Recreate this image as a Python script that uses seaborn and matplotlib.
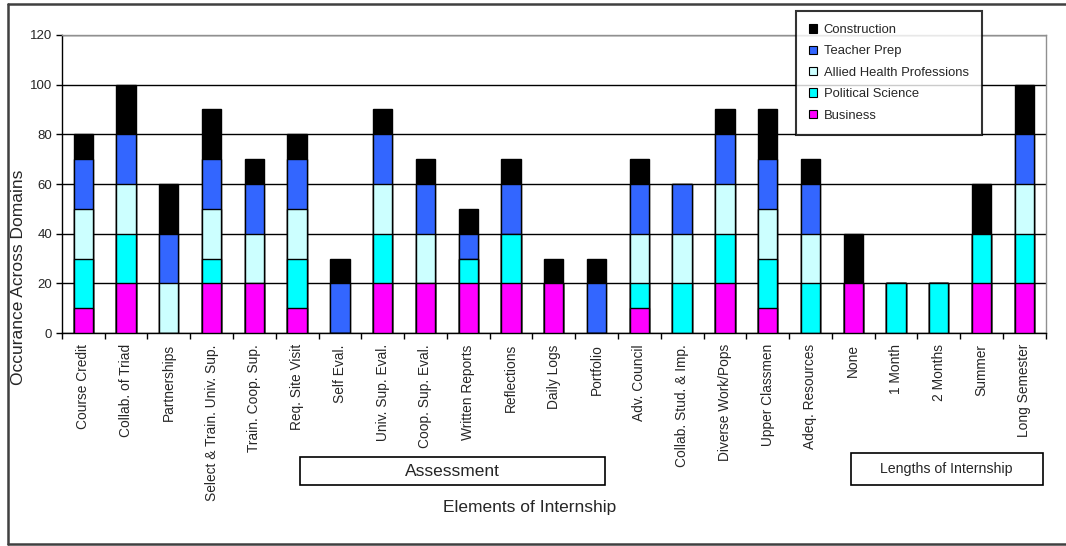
import numpy as np
import pandas as pd
import matplotlib
matplotlib.use("Agg")
import matplotlib.pyplot as plt
from matplotlib.patches import Patch, Rectangle
from matplotlib.lines import Line2D
import seaborn as sns

# Internship elements (x categories)
elements = [
    "Course Credit", "Collab. of Triad", "Partnerships", "Select & Train. Univ. Sup.",
    "Train. Coop. Sup.", "Req. Site Visit", "Self Eval.", "Univ. Sup. Eval.",
    "Coop. Sup. Eval.", "Written Reports", "Reflections", "Daily Logs", "Portfolio",
    "Adv. Council", "Collab. Stud. & Imp.", "Diverse Work/Pops", "Upper Classmen",
    "Adeq. Resources", "None", "1 Month", "2 Months", "Summer", "Long Semester",
]

# Occurrence per domain, stacked bottom to top
business          = [10, 20, 0, 20, 20, 10, 0, 20, 20, 20, 20, 20, 0, 10, 0, 20, 10, 0, 20, 0, 0, 20, 20]
political_science = [20, 20, 0, 10, 0, 20, 0, 20, 0, 10, 20, 0, 0, 10, 20, 20, 20, 20, 0, 20, 20, 20, 20]
allied_health     = [20, 20, 20, 20, 20, 20, 0, 20, 20, 0, 0, 0, 0, 20, 20, 20, 20, 20, 0, 0, 0, 0, 20]
teacher_prep      = [20, 20, 20, 20, 20, 20, 20, 20, 20, 10, 20, 0, 20, 20, 20, 20, 20, 20, 0, 0, 0, 0, 20]
construction      = [10, 20, 20, 20, 10, 10, 10, 10, 10, 10, 10, 10, 10, 10, 0, 10, 20, 10, 20, 0, 0, 20, 20]

series_names = ["Business", "Political Science", "Allied Health Professions",
                "Teacher Prep", "Construction"]
series_vals = [business, political_science, allied_health, teacher_prep, construction]
colors = ["#FF00FF", "#00FFFF", "#CCFFFF", "#3366FF", "#000000"]

y_ticks = [0, 20, 40, 60, 80, 100, 120]

sns.set_theme(style="white")
plt.rcParams["font.family"] = ["Liberation Sans", "DejaVu Sans"]

fig = plt.figure(figsize=(10.66, 5.46), dpi=100)
ax = fig.add_axes([0.058, 0.390, 0.923, 0.546])

# Cumulative tops; draw tallest layer first so lower layers sit on top of it
stack = np.cumsum(np.array(series_vals), axis=0)
for i in range(len(series_names) - 1, -1, -1):
    df = pd.DataFrame({"element": elements, "value": stack[i]})
    sns.barplot(data=df, x="element", y="value", order=elements, color=colors[i],
                saturation=1, width=0.45, edgecolor="black", linewidth=1.0,
                errorbar=None, ax=ax, zorder=3)

ax.set_ylim(0, 120)
ax.set_xlim(-0.5, len(elements) - 0.5)
ax.set_yticks(y_ticks)
ax.set_yticklabels([str(t) for t in y_ticks], fontsize=9.5)
ax.yaxis.grid(True, color="black", linewidth=1.0, zorder=0)
ax.xaxis.grid(False)
ax.set_axisbelow(True)
ax.set_xlabel("")
ax.set_ylabel("")

ax.set_xticks(range(len(elements)))
ax.set_xticklabels(elements, rotation=90, fontsize=9.9, va="top", ha="center")
ax.set_xticks(np.arange(-0.5, len(elements), 1), minor=True)
ax.tick_params(axis="x", which="major", length=0, pad=8)
ax.tick_params(axis="x", which="minor", length=4, width=1, color="black", direction="out", bottom=True)
ax.tick_params(axis="y", length=4, width=1, color="black", direction="out", left=True, pad=3)

for side in ["left", "bottom"]:
    ax.spines[side].set_color("black")
    ax.spines[side].set_linewidth(1.0)
for side in ["top", "right"]:
    ax.spines[side].set_color("#909090")
    ax.spines[side].set_linewidth(1.0)

# Legend, top series first
handles = [Patch(facecolor=colors[i], edgecolor="black", linewidth=0.8, label=series_names[i])
           for i in range(len(series_names) - 1, -1, -1)]
leg = fig.legend(handles=handles, loc="upper left", bbox_to_anchor=(0.747, 0.980),
                 fontsize=9.4, frameon=True, fancybox=False, handlelength=0.6,
                 handleheight=0.6, handletextpad=0.5, labelspacing=0.72,
                 borderpad=1.0, borderaxespad=0)
leg.get_frame().set_edgecolor("black")
leg.get_frame().set_linewidth(1.5)
leg.get_frame().set_facecolor("white")
leg.set_zorder(10)

# Axis titles
fig.text(0.017, 0.493, "Occurance Across Domains", rotation=90, ha="center", va="center", fontsize=12.5)
fig.text(0.497, 0.070, "Elements of Internship", ha="center", va="center", fontsize=12.5)

# Group boxes below the category labels
fig.patches.append(Rectangle((0.2814, 0.1117), 0.286, 0.0513, transform=fig.transFigure,
                             facecolor="white", edgecolor="black", linewidth=1.2))
fig.text(0.424, 0.137, "Assessment", ha="center", va="center", fontsize=12.5)
fig.patches.append(Rectangle((0.7983, 0.1117), 0.180, 0.0586, transform=fig.transFigure,
                             facecolor="white", edgecolor="black", linewidth=1.2))
fig.text(0.888, 0.141, "Lengths of Internship", ha="center", va="center", fontsize=10.2)

# Outer chart frame
for xs, ys in [([0.0075, 0.0075], [0.003, 0.993]),
               ([0.0075, 1.0], [0.993, 0.993]),
               ([0.0075, 1.0], [0.003, 0.003])]:
    fig.lines.append(Line2D(xs, ys, transform=fig.transFigure, color="#404040", linewidth=1.8))

fig.savefig("out.png", dpi=100, facecolor="white")
